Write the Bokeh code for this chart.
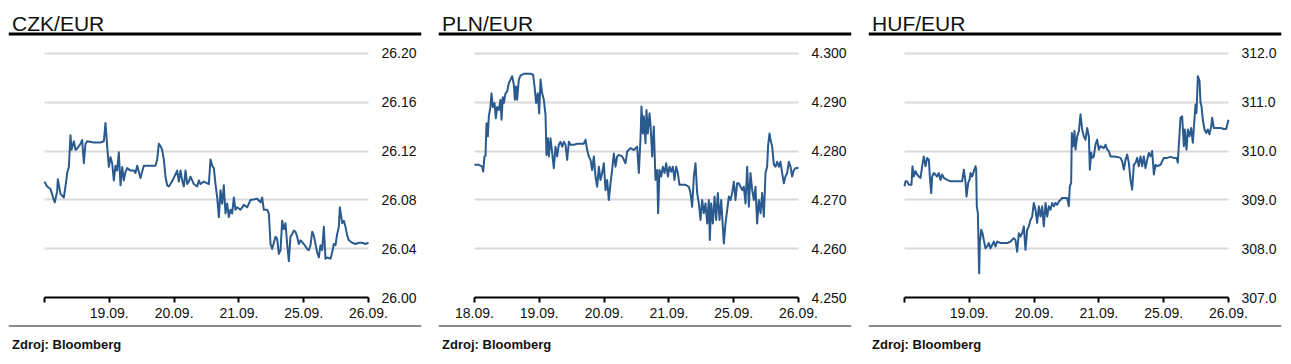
from bokeh.plotting import figure
from bokeh.models import FixedTicker, Label, NumeralTickFormatter, Range1d, Span
from bokeh.layouts import row
from bokeh.embed import file_html
from bokeh.resources import INLINE

FONT = "Liberation Sans"
BLUE = "#2b5a8f"
TXT = "#111111"

# ---------------- data (x = trading-day index: 0 = 18.09. ... 5 = 26.09.) ----------------
day_labels = ["18.09.", "19.09.", "20.09.", "21.09.", "25.09.", "26.09."]

czk_t = [0.000, 0.041, 0.093, 0.144, 0.159, 0.195, 0.206, 0.247, 0.298, 0.324,
         0.350, 0.376, 0.401, 0.417, 0.453, 0.478, 0.504, 0.556, 0.581, 0.607,
         0.633, 0.658, 0.761, 0.864, 0.916, 0.941, 0.967, 0.993, 1.019, 1.044,
         1.070, 1.096, 1.121, 1.147, 1.173, 1.199, 1.224, 1.250, 1.276, 1.327,
         1.379, 1.404, 1.430, 1.456, 1.481, 1.507, 1.533, 1.636, 1.713, 1.739,
         1.764, 1.790, 1.816, 1.842, 1.867, 1.893, 1.919, 1.944, 1.996, 2.047,
         2.073, 2.099, 2.124, 2.150, 2.176, 2.202, 2.227, 2.253, 2.279, 2.305,
         2.356, 2.382, 2.407, 2.459, 2.536, 2.562, 2.588, 2.613, 2.639, 2.665,
         2.691, 2.716, 2.742, 2.767, 2.793, 2.819, 2.845, 2.870, 2.896, 2.922,
         2.947, 2.973, 3.025, 3.076, 3.128, 3.179, 3.282, 3.333, 3.359, 3.385,
         3.436, 3.462, 3.488, 3.513, 3.539, 3.565, 3.591, 3.616, 3.642, 3.668,
         3.693, 3.719, 3.745, 3.771, 3.796, 3.822, 3.848, 3.873, 3.899, 3.925,
         3.951, 4.002, 4.053, 4.079, 4.105, 4.131, 4.156, 4.182, 4.208, 4.234,
         4.259, 4.285, 4.311, 4.336, 4.362, 4.414, 4.439, 4.465, 4.491, 4.516,
         4.542, 4.558, 4.594, 4.620, 4.645, 4.671, 4.697, 4.748, 4.799, 4.851,
         4.902, 4.954, 5.000]
czk_v = [26.095, 26.091, 26.089, 26.080, 26.078, 26.087, 26.097, 26.085, 26.082, 26.091,
         26.102, 26.107, 26.133, 26.121, 26.128, 26.121, 26.122, 26.126, 26.129, 26.110,
         26.126, 26.128, 26.127, 26.127, 26.128, 26.143, 26.124, 26.107, 26.115, 26.110,
         26.096, 26.108, 26.104, 26.119, 26.092, 26.107, 26.096, 26.103, 26.106, 26.104,
         26.104, 26.102, 26.108, 26.103, 26.098, 26.103, 26.108, 26.108, 26.108, 26.113,
         26.126, 26.124, 26.121, 26.113, 26.099, 26.092, 26.091, 26.093, 26.098, 26.104,
         26.095, 26.104, 26.096, 26.091, 26.104, 26.093, 26.095, 26.099, 26.096, 26.093,
         26.091, 26.096, 26.093, 26.095, 26.093, 26.113, 26.108, 26.106, 26.093, 26.082,
         26.066, 26.088, 26.077, 26.092, 26.069, 26.077, 26.066, 26.072, 26.069, 26.082,
         26.072, 26.074, 26.072, 26.076, 26.074, 26.080, 26.081, 26.078, 26.082, 26.072,
         26.072, 26.069, 26.044, 26.040, 26.045, 26.050, 26.048, 26.036, 26.039, 26.063,
         26.056, 26.061, 26.044, 26.030, 26.050, 26.052, 26.055, 26.054, 26.050, 26.044,
         26.047, 26.044, 26.040, 26.039, 26.043, 26.054, 26.051, 26.044, 26.037, 26.033,
         26.043, 26.039, 26.058, 26.032, 26.033, 26.032, 26.037, 26.044, 26.043, 26.052,
         26.058, 26.074, 26.061, 26.063, 26.058, 26.051, 26.047, 26.045, 26.044, 26.045,
         26.045, 26.044, 26.045]

pln_t = [0.000, 0.067, 0.118, 0.134, 0.154, 0.170, 0.185, 0.206, 0.221, 0.247,
         0.262, 0.283, 0.309, 0.329, 0.350, 0.376, 0.401, 0.417, 0.437, 0.453,
         0.478, 0.504, 0.530, 0.556, 0.581, 0.607, 0.622, 0.643, 0.658, 0.684,
         0.710, 0.761, 0.813, 0.864, 0.905, 0.926, 0.952, 0.977, 0.998, 1.019,
         1.044, 1.070, 1.096, 1.111, 1.132, 1.147, 1.173, 1.199, 1.224, 1.250,
         1.276, 1.301, 1.327, 1.353, 1.379, 1.404, 1.430, 1.456, 1.481, 1.533,
         1.584, 1.636, 1.687, 1.713, 1.739, 1.764, 1.790, 1.816, 1.842, 1.867,
         1.893, 1.919, 1.944, 1.970, 1.996, 2.022, 2.047, 2.073, 2.099, 2.124,
         2.150, 2.176, 2.202, 2.227, 2.279, 2.330, 2.356, 2.407, 2.459, 2.510,
         2.536, 2.562, 2.577, 2.598, 2.613, 2.639, 2.654, 2.675, 2.701, 2.716,
         2.742, 2.767, 2.793, 2.819, 2.834, 2.855, 2.881, 2.906, 2.932, 2.958,
         2.984, 3.009, 3.035, 3.061, 3.086, 3.112, 3.138, 3.164, 3.205, 3.256,
         3.308, 3.333, 3.359, 3.385, 3.411, 3.436, 3.462, 3.488, 3.513, 3.539,
         3.565, 3.591, 3.616, 3.632, 3.652, 3.678, 3.704, 3.729, 3.755, 3.781,
         3.807, 3.832, 3.848, 3.873, 3.899, 3.925, 3.951, 3.976, 4.002, 4.028,
         4.053, 4.079, 4.105, 4.131, 4.156, 4.182, 4.208, 4.234, 4.259, 4.285,
         4.311, 4.336, 4.362, 4.388, 4.414, 4.439, 4.465, 4.491, 4.516, 4.532,
         4.553, 4.568, 4.594, 4.620, 4.645, 4.671, 4.697, 4.722, 4.748, 4.774,
         4.799, 4.825, 4.851, 4.877, 4.902, 4.928, 4.954, 5.000]
pln_v = [4.2772, 4.2772, 4.2768, 4.2758, 4.2789, 4.2790, 4.2857, 4.2830, 4.2871, 4.2891,
         4.2918, 4.2890, 4.2898, 4.2867, 4.2890, 4.2884, 4.2905, 4.2864, 4.2910, 4.2898,
         4.2918, 4.2922, 4.2939, 4.2946, 4.2953, 4.2936, 4.2905, 4.2932, 4.2905, 4.2946,
         4.2954, 4.2958, 4.2958, 4.2958, 4.2956, 4.2932, 4.2898, 4.2918, 4.2877, 4.2946,
         4.2918, 4.2905, 4.2874, 4.2792, 4.2826, 4.2789, 4.2826, 4.2796, 4.2765, 4.2809,
         4.2789, 4.2813, 4.2819, 4.2809, 4.2819, 4.2813, 4.2782, 4.2819, 4.2813, 4.2813,
         4.2815, 4.2815, 4.2815, 4.2823, 4.2802, 4.2789, 4.2782, 4.2761, 4.2789, 4.2748,
         4.2727, 4.2768, 4.2741, 4.2755, 4.2775, 4.2720, 4.2741, 4.2700, 4.2734, 4.2761,
         4.2795, 4.2768, 4.2789, 4.2792, 4.2789, 4.2775, 4.2799, 4.2806, 4.2802, 4.2809,
         4.2755, 4.2826, 4.2891, 4.2836, 4.2871, 4.2816, 4.2884, 4.2836, 4.2877, 4.2854,
         4.2789, 4.2850, 4.2741, 4.2761, 4.2673, 4.2761, 4.2748, 4.2768, 4.2755, 4.2775,
         4.2748, 4.2768, 4.2758, 4.2768, 4.2741, 4.2768, 4.2755, 4.2731, 4.2731, 4.2731,
         4.2727, 4.2714, 4.2686, 4.2748, 4.2775, 4.2714, 4.2693, 4.2659, 4.2700, 4.2673,
         4.2693, 4.2652, 4.2700, 4.2618, 4.2693, 4.2652, 4.2707, 4.2659, 4.2714, 4.2659,
         4.2700, 4.2645, 4.2611, 4.2652, 4.2679, 4.2707, 4.2700, 4.2714, 4.2737, 4.2700,
         4.2734, 4.2734, 4.2727, 4.2720, 4.2727, 4.2693, 4.2768, 4.2686, 4.2755, 4.2720,
         4.2700, 4.2727, 4.2652, 4.2700, 4.2673, 4.2714, 4.2666, 4.2755, 4.2768, 4.2813,
         4.2836, 4.2823, 4.2809, 4.2772, 4.2768, 4.2778, 4.2768, 4.2778, 4.2755, 4.2734,
         4.2748, 4.2755, 4.2778, 4.2768, 4.2748, 4.2761, 4.2765, 4.2766]

huf_t = [0.000, 0.015, 0.041, 0.067, 0.108, 0.123, 0.144, 0.170, 0.195, 0.221,
         0.247, 0.273, 0.298, 0.324, 0.350, 0.376, 0.391, 0.412, 0.427, 0.453,
         0.504, 0.530, 0.556, 0.581, 0.607, 0.658, 0.710, 0.761, 0.813, 0.890,
         0.916, 0.941, 0.957, 0.983, 1.003, 1.019, 1.044, 1.070, 1.096, 1.106,
         1.116, 1.132, 1.152, 1.163, 1.183, 1.204, 1.224, 1.250, 1.276, 1.301,
         1.327, 1.353, 1.379, 1.404, 1.430, 1.481, 1.533, 1.584, 1.636, 1.687,
         1.713, 1.739, 1.764, 1.790, 1.816, 1.842, 1.867, 1.893, 1.919, 1.944,
         1.970, 1.996, 2.022, 2.047, 2.073, 2.099, 2.124, 2.150, 2.176, 2.202,
         2.227, 2.253, 2.279, 2.305, 2.330, 2.356, 2.382, 2.407, 2.433, 2.459,
         2.510, 2.536, 2.551, 2.572, 2.582, 2.603, 2.623, 2.639, 2.665, 2.691,
         2.716, 2.742, 2.767, 2.793, 2.819, 2.845, 2.860, 2.881, 2.896, 2.922,
         2.947, 2.973, 2.999, 3.025, 3.076, 3.102, 3.128, 3.153, 3.179, 3.230,
         3.282, 3.333, 3.359, 3.385, 3.411, 3.436, 3.462, 3.488, 3.513, 3.539,
         3.565, 3.591, 3.616, 3.642, 3.668, 3.693, 3.719, 3.745, 3.771, 3.796,
         3.822, 3.848, 3.873, 3.899, 3.951, 4.002, 4.053, 4.105, 4.156, 4.198,
         4.218, 4.234, 4.259, 4.285, 4.311, 4.326, 4.352, 4.373, 4.398, 4.424,
         4.450, 4.465, 4.491, 4.506, 4.527, 4.553, 4.568, 4.583, 4.604, 4.630,
         4.655, 4.681, 4.707, 4.733, 4.748, 4.774, 4.825, 4.877, 4.928, 4.964,
         5.000]
huf_v = [309.28, 309.38, 309.38, 309.31, 309.31, 309.69, 309.48, 309.59, 309.52, 309.48,
         309.45, 309.69, 309.89, 309.69, 309.86, 309.82, 309.48, 309.14, 309.48, 309.55,
         309.48, 309.55, 309.41, 309.52, 309.45, 309.41, 309.38, 309.38, 309.38, 309.38,
         309.62, 309.38, 309.07, 309.35, 309.41, 309.55, 309.48, 309.59, 309.69, 309.62,
         308.87, 308.73, 307.50, 308.12, 308.39, 308.32, 308.18, 308.01, 308.05, 308.12,
         308.01, 308.08, 308.15, 308.05, 308.15, 308.12, 308.12, 308.12, 308.15, 308.22,
         308.18, 307.94, 308.32, 308.25, 308.32, 308.46, 307.98, 308.39, 308.46, 308.59,
         308.66, 308.94, 308.80, 308.53, 308.87, 308.66, 308.87, 308.46, 308.94, 308.66,
         308.87, 308.80, 308.94, 308.87, 308.94, 308.90, 308.97, 309.00, 309.04, 309.04,
         309.04, 308.87, 309.28, 309.35, 310.37, 310.10, 310.41, 310.03, 310.30, 310.41,
         310.75, 310.44, 310.30, 310.23, 310.47, 310.30, 309.62, 309.97, 309.86, 309.89,
         310.13, 310.23, 310.03, 310.10, 310.06, 310.13, 310.03, 310.00, 309.89, 309.89,
         309.88, 309.86, 309.79, 309.62, 309.82, 309.93, 309.76, 309.41, 309.21, 309.72,
         309.76, 309.86, 309.69, 309.89, 309.69, 309.89, 309.65, 309.82, 309.96, 309.89,
         310.00, 309.52, 309.72, 309.69, 309.72, 309.86, 309.86, 309.88, 309.86, 309.86,
         309.76, 310.13, 310.68, 310.71, 310.10, 310.44, 310.03, 310.44, 310.30, 310.47,
         310.17, 310.47, 310.95, 310.78, 311.53, 311.43, 310.99, 310.92, 310.64, 310.44,
         310.37, 310.44, 310.34, 310.51, 310.68, 310.47, 310.47, 310.47, 310.45, 310.45,
         310.64]

czk_ticks = [26.00, 26.04, 26.08, 26.12, 26.16, 26.20]
pln_ticks = [4.250, 4.260, 4.270, 4.280, 4.290, 4.300]
huf_ticks = [307.0, 308.0, 309.0, 310.0, 311.0, 312.0]

czk_xlabels = [""] + day_labels[1:]
pln_xlabels = day_labels
huf_xlabels = [""] + day_labels[1:]

SOURCE = "Zdroj: Bloomberg"

# ---------------- layout constants (pixels from the top of each figure) ----------------
H = 362
FW = 413                      # width of each panel's frame
PL, PR = 36.0, 360.0          # horizontal span of the plotted days inside the frame
P_LOW, P_HIGH = 297.3, 52.7   # rows of the lowest and highest y tick
ROW_HEAD_RULE = 33.5
ROW_SRC_RULE = 325.5
ROW_HEAD_BASE = 22.7
ROW_SRC_BASE = 344.0
X_TEXT = 3.6                  # text start inside the frame


def make_panel(name, t, v, yticks, yfmt, xlabels, width, left_border, right_border):
    n = min(len(t), len(v))
    t, v = t[:n], v[:n]
    ppu = (PR - PL) / 5.0

    def ux(px):
        return (px - PL) / ppu

    y0, y1 = yticks[0], yticks[-1]
    scale = (y1 - y0) / (P_LOW - P_HIGH)

    def vy(py):
        return y0 + (P_LOW - py) * scale

    p = figure(width=width, height=H, x_range=Range1d(ux(0), ux(FW)),
               y_range=Range1d(vy(H), vy(0)), y_axis_location="right",
               min_border_left=left_border, min_border_right=right_border,
               min_border_top=0, min_border_bottom=0,
               toolbar_location=None, output_backend="svg")
    p.outline_line_color = None
    p.background_fill_color = "white"
    p.border_fill_color = "white"

    xa = p.xaxis[0]
    xa.fixed_location = y0
    xa.ticker = FixedTicker(ticks=[0, 1, 2, 3, 4, 5])
    xa.bounds = (0, 5)
    xa.major_label_overrides = {i: lab for i, lab in enumerate(xlabels)}
    xa.axis_line_color = "black"
    xa.axis_line_width = 2
    xa.major_tick_line_color = "black"
    xa.major_tick_line_width = 2
    xa.major_tick_out = 5
    xa.major_tick_in = 0
    xa.minor_tick_line_color = None
    xa.major_label_standoff = 5
    xa.major_label_text_font = FONT
    xa.major_label_text_font_size = "14px"
    xa.major_label_text_color = TXT

    ya = p.yaxis[0]
    ya.fixed_location = 5
    ya.ticker = FixedTicker(ticks=yticks)
    ya.formatter = NumeralTickFormatter(format=yfmt)
    ya.axis_line_color = None
    ya.major_tick_line_color = None
    ya.minor_tick_line_color = None
    ya.major_tick_out = 0
    ya.major_tick_in = 0
    ya.major_label_standoff = 13
    ya.major_label_text_font = FONT
    ya.major_label_text_font_size = "14px"
    ya.major_label_text_color = TXT

    p.xgrid.visible = False
    g = p.ygrid[0]
    g.ticker = FixedTicker(ticks=yticks[1:])
    g.grid_line_color = "#d9d9d9"
    g.grid_line_width = 2
    g.cross_bounds = (0, 5)

    p.add_layout(Span(location=vy(ROW_HEAD_RULE), dimension="width",
                      line_color="black", line_width=3))
    p.add_layout(Span(location=vy(ROW_SRC_RULE), dimension="width",
                      line_color="#8c8c8c", line_width=2))

    p.add_layout(Label(x=ux(X_TEXT), y=vy(ROW_HEAD_BASE), text=name,
                       text_font=FONT, text_font_size="21px", text_color=TXT,
                       text_baseline="alphabetic", text_align="left"))
    p.add_layout(Label(x=ux(X_TEXT), y=vy(ROW_SRC_BASE), text=SOURCE,
                       text_font=FONT, text_font_size="13px", text_font_style="bold",
                       text_color=TXT, text_baseline="alphabetic", text_align="left"))

    p.line(t, v, line_color=BLUE, line_width=2, line_join="round")
    return p


p1 = make_panel("CZK/EUR", czk_t, czk_v, czk_ticks, "0.00", czk_xlabels, 438, 8, 17)
p2 = make_panel("PLN/EUR", pln_t, pln_v, pln_ticks, "0.000", pln_xlabels, 430, 0, 17)
p3 = make_panel("HUF/EUR", huf_t, huf_v, huf_ticks, "0.0", huf_xlabels, 421, 0, 8)

layout = row(p1, p2, p3)
open("out.html", "w").write(file_html(layout, INLINE, "CZK PLN HUF"))
